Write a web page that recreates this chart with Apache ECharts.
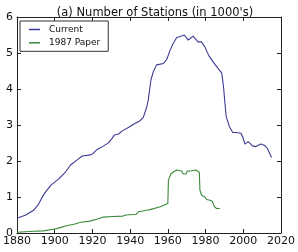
<!DOCTYPE html>
<html><head><meta charset="utf-8">
<script src="https://cdn.jsdelivr.net/npm/echarts@6/dist/echarts.min.js"></script>
<style>html,body{margin:0;padding:0;background:#fff}#c{width:298px;height:252px}</style>
</head><body><div id="c"></div>
<script>
const title = "(a) Number of Stations (in 1000's)";
const seriesNames = ["Current", "1987 Paper"];
const xTicks = [1880, 1900, 1920, 1940, 1960, 1980, 2000, 2020];
const yTicks = [0, 1, 2, 3, 4, 5, 6];

const currentYears = [1880,1884.7,1889,1891.2,1893.5,1895.3,1898,1902.3,1905.8,1908.4,1911.9,1914.6,1919,1920.4,1922.5,1926,1928.6,1930.4,1931.6,1933.9,1935.6,1939.1,1941.8,1945.3,1947,1948.8,1949.6,1950.5,1951,1952.3,1954,1956,1957.7,1959.4,1961.2,1962.9,1964.7,1967.3,1968.7,1970.8,1973.4,1976,1977.8,1979.5,1981.8,1983.9,1986.5,1988.6,1989.5,1990.9,1992.6,1994.4,1996.1,1998.8,1999.6,2000.9,2002.6,2004.9,2006.7,2009.3,2011.1,2012.8,2015];
const currentValues = [0.41,0.50,0.64,0.78,1.01,1.15,1.33,1.51,1.70,1.89,2.03,2.14,2.17,2.21,2.32,2.42,2.51,2.63,2.72,2.75,2.83,2.93,3.02,3.12,3.21,3.50,3.69,4.05,4.25,4.48,4.67,4.69,4.71,4.82,5.08,5.27,5.43,5.47,5.50,5.36,5.47,5.31,5.31,5.18,4.92,4.76,4.58,4.44,4.07,3.24,2.96,2.79,2.79,2.77,2.68,2.47,2.54,2.42,2.40,2.47,2.44,2.35,2.10];

const paperYears = [1880,1889,1894,1900,1902.9,1906.3,1910.7,1913.3,1918.6,1922.1,1925.6,1930.9,1936.1,1937.9,1943.2,1944.4,1946.7,1949.3,1950.5,1956,1960,1960.3,1961.6,1963,1964.7,1967.3,1968.2,1969.6,1970.3,1972.6,1974.9,1975.6,1976.7,1977,1977.9,1979.6,1980.5,1982.3,1983.5,1984.6,1985.8,1987.6];
const paperValues = [0.02,0.05,0.06,0.11,0.15,0.20,0.25,0.29,0.33,0.38,0.44,0.46,0.47,0.50,0.52,0.59,0.61,0.64,0.65,0.73,0.82,1.47,1.64,1.70,1.75,1.72,1.64,1.64,1.72,1.73,1.75,1.77,1.68,1.19,1.05,1.00,0.93,0.91,0.88,0.74,0.68,0.68];

const pair = (xs, ys) => xs.map((x, i) => [x, ys[i]]);
const font = "DejaVu Sans";
const blue = "#3b3b95";
const green = "#3a8a3a";

const chart = echarts.init(document.getElementById('c'), null, {renderer: 'canvas'});
const axisCommon = {
  axisLine: {show: true, onZero: false, lineStyle: {color: '#222', width: 1}},
  axisTick: {show: true, inside: true, length: 4, lineStyle: {color: '#222', width: 1}},
  splitLine: {show: false}
};
chart.setOption({
  animation: false,
  backgroundColor: '#fff',
  title: {text: title, left: 150, textAlign: 'center', top: 2,
    textStyle: {fontFamily: font, fontSize: 11.5, fontWeight: 'normal', color: '#111'}},
  grid: {left: 16, right: 16, top: 17, bottom: 19, containLabel: false},
  legend: {
    orient: 'vertical', left: 20, top: 21, padding: [3, 8, 3, 9],
    borderColor: '#333', borderWidth: 1, itemGap: 2.3,
    icon: 'rect', itemWidth: 11, itemHeight: 1.5,
    textStyle: {fontFamily: font, fontSize: 9, lineHeight: 11, color: '#111', padding: [0, 0, 0, 4]},
    data: seriesNames
  },
  xAxis: [
    Object.assign({type: 'value', min: xTicks[0], max: xTicks[xTicks.length - 1], interval: 20, position: 'bottom',
      axisLabel: {fontFamily: font, fontSize: 11, color: '#111', margin: 3, formatter: v => String(v)}}, axisCommon),
    Object.assign({type: 'value', min: xTicks[0], max: xTicks[xTicks.length - 1], interval: 20, position: 'top',
      axisLabel: {show: false}}, axisCommon)
  ],
  yAxis: [
    Object.assign({type: 'value', min: yTicks[0], max: yTicks[yTicks.length - 1], interval: 1, position: 'left',
      axisLabel: {fontFamily: font, fontSize: 11, color: '#111', margin: 4}}, axisCommon),
    Object.assign({type: 'value', min: yTicks[0], max: yTicks[yTicks.length - 1], interval: 1, position: 'right',
      axisLabel: {show: false}}, axisCommon)
  ],
  series: [
    {name: seriesNames[0], type: 'line', data: pair(currentYears, currentValues), showSymbol: false, symbol: 'none',
      lineStyle: {color: blue, width: 1.1}, itemStyle: {color: blue}},
    {name: seriesNames[1], type: 'line', data: pair(paperYears, paperValues), showSymbol: false, symbol: 'none',
      lineStyle: {color: green, width: 1.1}, itemStyle: {color: green}}
  ]
});
</script></body></html>
